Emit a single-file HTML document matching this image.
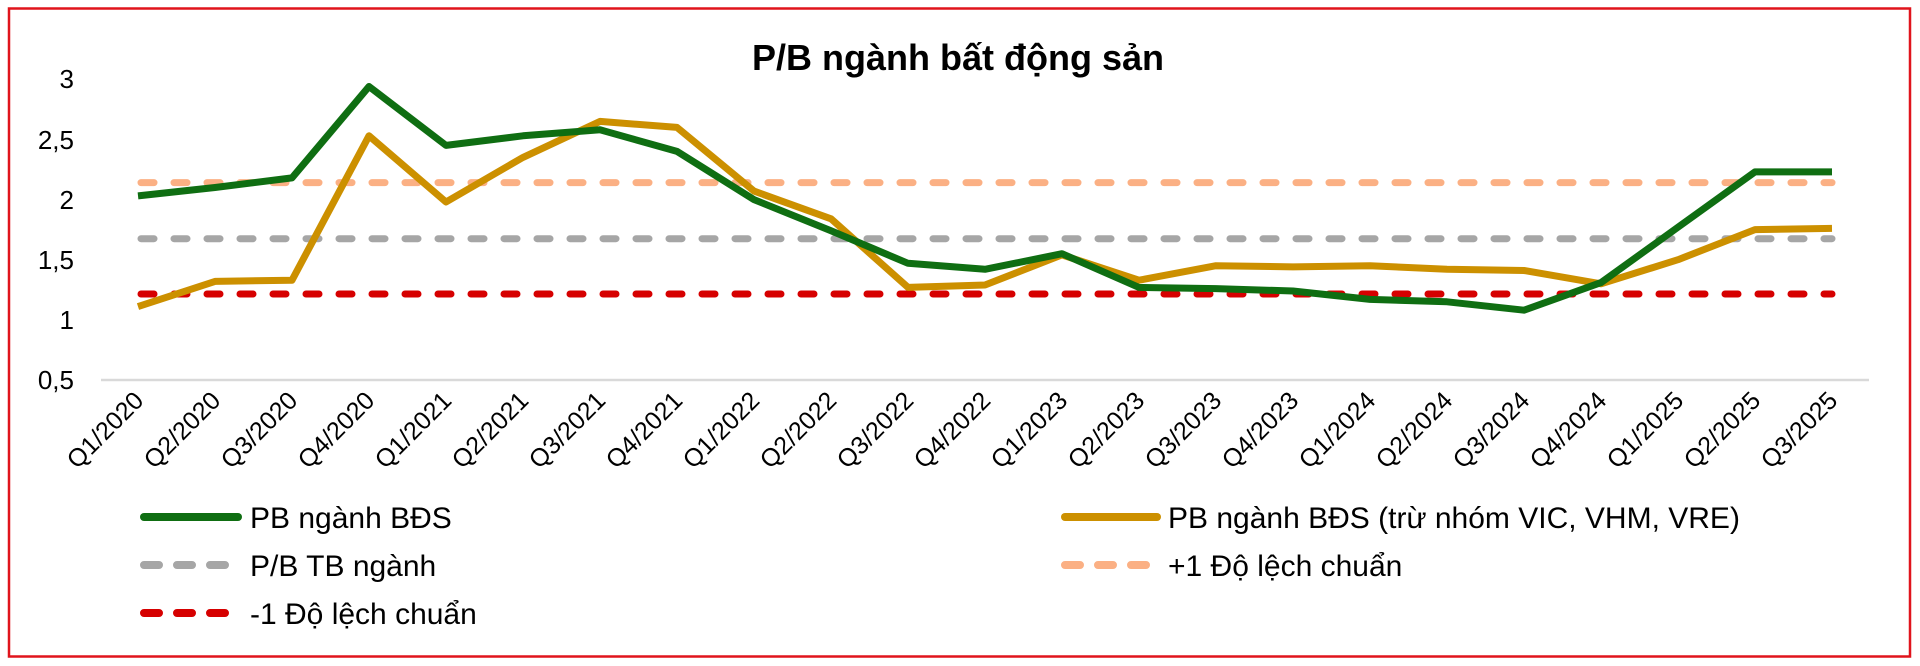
<!DOCTYPE html>
<html><head><meta charset="utf-8"><style>
html,body{margin:0;padding:0;background:#fff;}
svg{display:block;}
text{font-family:"Liberation Sans",Arial,sans-serif;fill:#000;}
</style></head><body>
<svg width="1920" height="666" viewBox="0 0 1920 666" xmlns="http://www.w3.org/2000/svg">
<rect x="0" y="0" width="1920" height="666" fill="#fff"/>
<rect x="9" y="8.5" width="1901" height="648" fill="none" stroke="#e0141c" stroke-width="2.5"/>
<text x="958" y="70" font-size="36" font-weight="bold" text-anchor="middle">P/B ngành bất động sản</text>
<g font-size="26" text-anchor="end">
<text x="74" y="88">3</text>
<text x="74" y="149">2,5</text>
<text x="74" y="209">2</text>
<text x="74" y="269">1,5</text>
<text x="74" y="329">1</text>
<text x="74" y="389">0,5</text>
</g>
<line x1="101" y1="380" x2="1869" y2="380" stroke="#d9d9d9" stroke-width="2.5"/>
<g id="xl" font-size="25" text-anchor="end"></g>
<g fill="none" stroke-linecap="round" stroke-width="7" stroke-dasharray="13 20">
<line x1="141" y1="182.6" x2="1832" y2="182.6" stroke="#fbb084"/>
<line x1="141" y1="238.7" x2="1832" y2="238.7" stroke="#a6a6a6"/>
<line x1="141" y1="294" x2="1832" y2="294" stroke="#d60000"/>
</g>
<polyline id="gold" fill="none" stroke="#cc9000" stroke-width="7" stroke-linejoin="round"/>
<polyline id="green" fill="none" stroke="#0f6e12" stroke-width="7" stroke-linejoin="round"/>
<g stroke-linecap="round" stroke-width="8" fill="none">
<line x1="144" y1="517" x2="238" y2="517" stroke="#0f6e12"/>
<line x1="144" y1="565" x2="238" y2="565" stroke="#a6a6a6" stroke-dasharray="15 18"/>
<line x1="144" y1="613" x2="238" y2="613" stroke="#d60000" stroke-dasharray="15 18"/>
<line x1="1065" y1="517" x2="1157" y2="517" stroke="#cc9000"/>
<line x1="1065" y1="565" x2="1157" y2="565" stroke="#fbb084" stroke-dasharray="15 18"/>
</g>
<g font-size="30">
<text x="250" y="528">PB ngành BĐS</text>
<text x="250" y="576">P/B TB ngành</text>
<text x="250" y="624">-1 Độ lệch chuẩn</text>
<text x="1168" y="528">PB ngành BĐS (trừ nhóm VIC, VHM, VRE)</text>
<text x="1168" y="576">+1 Độ lệch chuẩn</text>
</g>
</svg>
<script>
var labels=[],q=1,y=2020;
for(var i=0;i<23;i++){labels.push("Q"+q+"/"+y);q++;if(q>4){q=1;y++;}}
var X=function(i){return 138+i*77;};
var Y=function(v){return 380-(v-0.5)*120.3;};
var g=[2.03,2.10,2.18,2.94,2.45,2.53,2.58,2.40,2.0,1.74,1.47,1.42,1.55,1.27,1.26,1.24,1.17,1.15,1.08,1.31,1.77,2.23,2.23];
var o=[1.11,1.32,1.33,2.53,1.98,2.35,2.65,2.60,2.07,1.84,1.27,1.29,1.54,1.33,1.45,1.44,1.45,1.42,1.41,1.30,1.50,1.75,1.76];
function pts(a){return a.map(function(v,i){return X(i)+","+Y(v).toFixed(1);}).join(" ");}
document.getElementById("green").setAttribute("points",pts(g));
document.getElementById("gold").setAttribute("points",pts(o));
var xl=document.getElementById("xl"),s="";
for(var i=0;i<23;i++){var x=X(i)+7,yy=402;s+='<text x="'+x+'" y="'+yy+'" transform="rotate(-45 '+x+' '+yy+')">'+labels[i]+'</text>';}
xl.innerHTML=s;
</script>
</body></html>
